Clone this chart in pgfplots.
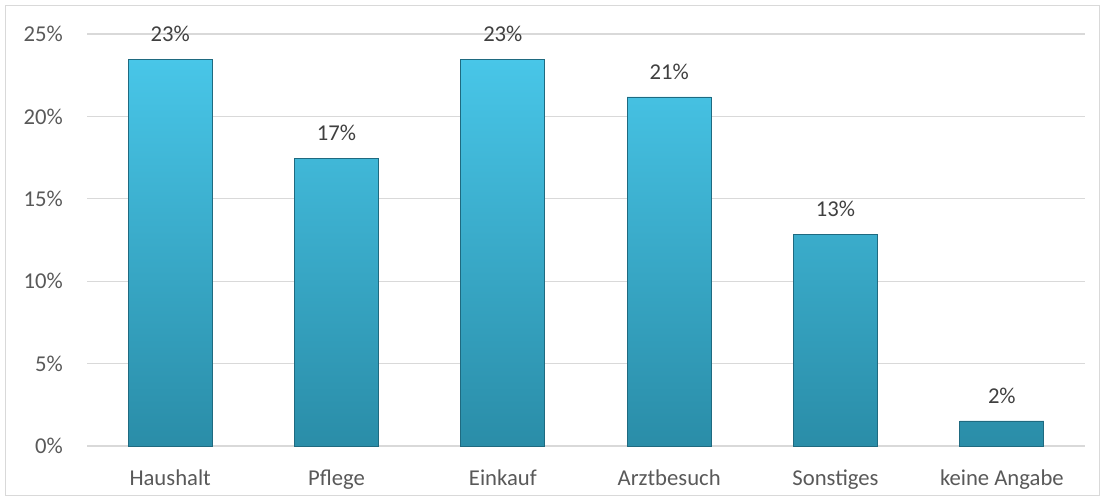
\documentclass[border=0pt]{standalone}
\usepackage{pgfplots}
\pgfplotsset{compat=1.18}
\usepackage{fontspec}
\setmainfont{Carlito}
\definecolor{gridgray}{HTML}{D9D9D9}
\definecolor{ticktext}{HTML}{595959}
\definecolor{valtext}{HTML}{404040}
\definecolor{bartop}{HTML}{48C6E8}
\definecolor{barbot}{HTML}{2A8DA8}
\definecolor{baredge}{HTML}{1F6A80}
\begin{document}
\fontsize{17}{20}\selectfont
\begin{tikzpicture}
\useasboundingbox (0pt,0pt) rectangle (828.75pt,375.75pt);
\draw[gridgray, line width=1pt] (4.1pt,4.1pt) rectangle (824.6pt,371.6pt);
\begin{axis}[
    at={(65.25pt,41.25pt)}, anchor=south west,
    scale only axis,
    width=748.5pt, height=309pt,
    xmin=-0.5, xmax=5.5,
    ymin=0, ymax=25,
    xtick={0,1,2,3,4,5},
    xticklabels={Haushalt,Pflege,Einkauf,Arztbesuch,Sonstiges,keine Angabe},
    ytick={0,5,10,15,20,25},
    yticklabel={\pgfmathprintnumber[assume math mode=true]{\tick}\%},
    major tick length=0,
    axis line style={draw=none},
    ymajorgrids,
    grid style={gridgray, line width=1pt},
    ticklabel style={font=\fontsize{17}{20}\selectfont, text=ticktext},
    xticklabel style={anchor=north, inner sep=0pt, yshift=-17.5pt},
    yticklabel style={anchor=east, inner sep=0pt, xshift=-18pt},
    ybar, bar width=0.505,
    nodes near coords={\pgfmathprintnumber[fixed,precision=0,assume math mode=true]{\pgfplotspointmeta}\%},
    nodes near coords style={font=\fontsize{17}{20}\selectfont, text=valtext, anchor=south, inner sep=0pt, yshift=13pt},
    clip=false,
]
\addplot[draw=baredge, line width=0.6pt, top color=bartop, bottom color=barbot]
    coordinates {(0,23.48) (1,17.45) (2,23.46) (3,21.18) (4,12.86) (5,1.52)};
\end{axis}
\end{tikzpicture}
\end{document}
